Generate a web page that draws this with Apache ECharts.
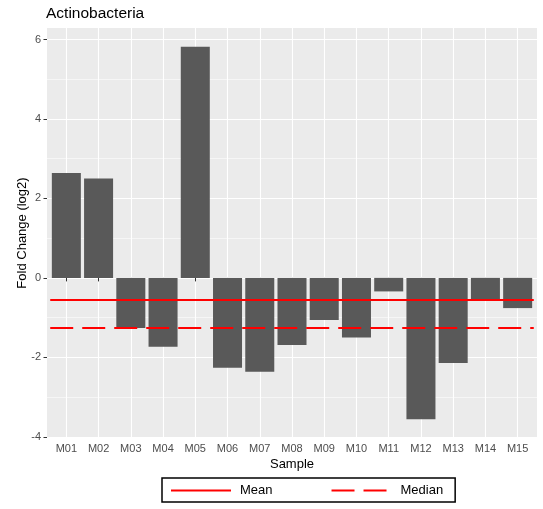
<!DOCTYPE html>
<html>
<head>
<meta charset="utf-8">
<script src="https://cdn.jsdelivr.net/npm/echarts@6/dist/echarts.min.js"></script>
<style>
  html, body { margin: 0; padding: 0; background: #ffffff; }
  #chart { width: 543px; height: 509px; }
</style>
</head>
<body>
<div id="chart"></div>
<script>
// Log2 fold change per sample
const chartTitle = 'Actinobacteria';
const samples = ['M01', 'M02', 'M03', 'M04', 'M05', 'M06', 'M07', 'M08',
                 'M09', 'M10', 'M11', 'M12', 'M13', 'M14', 'M15'];
const foldChange = [2.64, 2.50, -1.26, -1.73, 5.82, -2.26, -2.36, -1.69,
                    -1.06, -1.50, -0.34, -3.56, -2.14, -0.54, -0.76];
const majorTicks = [-4, -2, 0, 2, 4, 6];
const minorTicks = [-3, -1, 1, 3, 5];

// Reference lines derived from the values
const mean = foldChange.reduce((a, b) => a + b, 0) / foldChange.length;
const sorted = foldChange.slice().sort((a, b) => a - b);
const mid = Math.floor(sorted.length / 2);
const median = sorted.length % 2 ? sorted[mid] : (sorted[mid - 1] + sorted[mid]) / 2;

// Value range padded by 5% on both sides
const vMin = Math.min(...foldChange), vMax = Math.max(...foldChange);
const pad = (vMax - vMin) * 0.05;
const yLo = vMin - pad, yHi = vMax + pad;

// Panel placement; categories sit 0.6 band from each panel edge
const W = 543;
const panel = { left: 47, right: 6, top: 28, bottom: 71 };
const n = samples.length;
const inset = (W - panel.left - panel.right) * 0.1 / (n + 0.2);
const positions = samples.map((_, i) => i + 1);

const textFont = '"Liberation Sans", Arial, sans-serif';
const tickColor = '#333333';
const labelColor = '#4D4D4D';
const dash = [23, 9];

const chart = echarts.init(document.getElementById('chart'), null, { renderer: 'canvas' });

chart.setOption({
  animation: false,
  backgroundColor: '#ffffff',
  textStyle: { fontFamily: textFont },
  title: {
    text: chartTitle,
    left: 46,
    top: 6,
    padding: 0,
    textStyle: { fontSize: 15.5, fontWeight: 'normal', color: '#000000', fontFamily: textFont }
  },
  legend: {
    data: ['Mean', 'Median'],
    left: 162,
    top: 478,
    orient: 'horizontal',
    itemWidth: 60,
    itemHeight: 14,
    itemGap: 58,
    borderColor: '#000000',
    borderWidth: 1.5,
    padding: [6, 12, 5, 8],
    selectedMode: false,
    itemStyle: { opacity: 0, borderWidth: 0 },
    textStyle: { fontSize: 13, color: '#000000', fontFamily: textFont, padding: [0, 0, 0, 4] }
  },
  grid: [
    {
      left: panel.left, right: panel.right, top: panel.top, bottom: panel.bottom,
      show: true, backgroundColor: '#EBEBEB', borderWidth: 0,
      containLabel: false, outerBoundsMode: 'none'
    },
    {
      left: panel.left + inset, right: panel.right + inset, top: panel.top, bottom: panel.bottom,
      containLabel: false, outerBoundsMode: 'none'
    }
  ],
  xAxis: [
    {
      gridIndex: 0, type: 'value', min: 1 - 0.6, max: n + 0.6,
      axisLine: { show: false },
      axisTick: { show: false, customValues: positions },
      axisLabel: { show: false, customValues: positions },
      splitLine: { show: true, lineStyle: { color: '#ffffff', width: 1.1 } }
    },
    {
      gridIndex: 1, type: 'category', data: samples,
      axisLine: { show: false },
      axisTick: { show: true, alignWithLabel: true, length: 3.5, lineStyle: { color: tickColor, width: 1 } },
      axisLabel: { color: labelColor, fontSize: 11, margin: 5, fontFamily: textFont },
      splitLine: { show: false },
      name: 'Sample', nameLocation: 'middle', nameGap: 20, nameMoveOverlap: false,
      nameTextStyle: { color: '#000000', fontSize: 13, fontFamily: textFont }
    }
  ],
  yAxis: [
    {
      gridIndex: 0, type: 'value', min: yLo, max: yHi,
      axisLine: { show: false },
      axisTick: { show: true, length: 3.5, customValues: majorTicks, lineStyle: { color: tickColor, width: 1 } },
      axisLabel: { customValues: majorTicks, color: labelColor, fontSize: 11, margin: 6, fontFamily: textFont },
      splitLine: { show: true, lineStyle: { color: '#ffffff', width: 1.1 } },
      name: 'Fold Change (log2)', nameLocation: 'middle', nameGap: 18, nameRotate: 90,
      nameMoveOverlap: false,
      nameTextStyle: { color: '#000000', fontSize: 13, fontFamily: textFont }
    },
    {
      gridIndex: 0, type: 'value', min: yLo, max: yHi, position: 'left',
      axisLine: { show: false },
      axisTick: { show: false, customValues: minorTicks },
      axisLabel: { show: false, customValues: minorTicks },
      splitLine: { show: true, lineStyle: { color: '#ffffff', width: 0.55 } }
    },
    {
      gridIndex: 1, type: 'value', min: yLo, max: yHi, show: false,
      splitLine: { show: false }
    }
  ],
  series: [
    {
      type: 'bar', name: 'Fold change', xAxisIndex: 1, yAxisIndex: 2,
      data: foldChange, barWidth: '90%',
      itemStyle: { color: '#595959' },
      z: 2
    },
    {
      type: 'line', name: 'Mean', xAxisIndex: 1, yAxisIndex: 2, data: [],
      symbol: 'none', itemStyle: { color: '#FF0000' },
      lineStyle: { color: '#FF0000', width: 2.2, type: 'solid' },
      markLine: {
        silent: true, symbol: ['none', 'none'], label: { show: false },
        lineStyle: { color: '#FF0000', width: 2.2, type: 'solid' },
        data: [{ yAxis: mean }]
      },
      z: 3
    },
    {
      type: 'line', name: 'Median', xAxisIndex: 1, yAxisIndex: 2, data: [],
      symbol: 'none', itemStyle: { color: '#FF0000' },
      lineStyle: { color: '#FF0000', width: 2.2, type: dash },
      markLine: {
        silent: true, symbol: ['none', 'none'], label: { show: false },
        lineStyle: { color: '#FF0000', width: 2.2, type: dash },
        data: [{ yAxis: median }]
      },
      z: 3
    }
  ]
});
</script>
</body>
</html>
